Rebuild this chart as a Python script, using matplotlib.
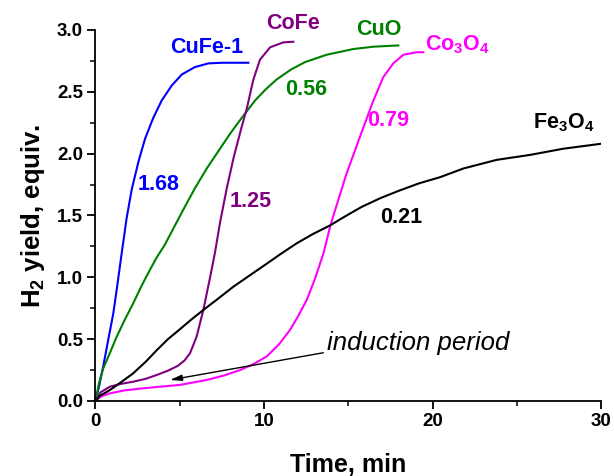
import matplotlib
matplotlib.use("Agg")
import matplotlib.pyplot as plt
from matplotlib.ticker import MultipleLocator, FormatStrFormatter

plt.rcParams['font.family'] = ['Liberation Sans', 'DejaVu Sans']
plt.rcParams['mathtext.fontset'] = 'custom'
plt.rcParams['mathtext.rm'] = 'Liberation Sans'
plt.rcParams['mathtext.bf'] = 'Liberation Sans:bold'
plt.rcParams['mathtext.it'] = 'Liberation Sans:italic'

# ---- data ----
t_cufe = [0, 0.2, 0.46, 0.75, 1.06, 1.3, 1.51, 1.85, 2.15, 2.54, 2.94, 3.43, 3.93, 4.52, 5.12, 5.9, 6.7, 7.5, 9.07]
y_cufe = [0, 0.11, 0.28, 0.49, 0.71, 0.94, 1.15, 1.48, 1.71, 1.93, 2.12, 2.29, 2.43, 2.55, 2.64, 2.70, 2.73, 2.735, 2.735]

t_cuo = [0, 0.2, 0.46, 0.8, 1.26, 1.75, 2.24, 2.73, 3.23, 3.63, 4.1, 4.72, 5.3, 5.9, 6.6, 7.29, 7.98, 8.68,
         9.47, 10.1, 10.75, 11.6, 12.43, 13.72, 15.3, 16.49, 17.97]
y_cuo = [0, 0.14, 0.264, 0.37, 0.52, 0.66, 0.79, 0.93, 1.06, 1.16, 1.26, 1.42, 1.57, 1.72, 1.88, 2.02, 2.16, 2.29,
         2.43, 2.52, 2.60, 2.68, 2.74, 2.80, 2.846, 2.865, 2.875]

t_cofe = [0, 0.3, 0.86, 1.5, 2.24, 3.0, 3.63, 4.3, 4.9, 5.3, 5.61, 6.0, 6.4, 6.8, 7.09, 7.4, 7.79, 8.2, 8.68,
          8.97, 9.37, 9.76, 10.36, 11.15, 11.74]
y_cofe = [0, 0.07, 0.116, 0.138, 0.156, 0.18, 0.21, 0.245, 0.285, 0.33, 0.386, 0.52, 0.736, 1.00, 1.20, 1.45,
          1.72, 1.97, 2.22, 2.36, 2.60, 2.76, 2.86, 2.90, 2.905]

t_co3o4 = [0, 0.3, 0.86, 1.7, 2.64, 3.8, 5.01, 6.6, 7.6, 8.58, 9.4, 10.16, 10.9, 11.54, 12.0, 12.53, 13.0, 13.52,
           13.92, 14.21, 14.9, 15.7, 16.49, 17.08, 17.67, 18.27, 19.06, 19.45]
y_co3o4 = [0, 0.035, 0.062, 0.085, 0.10, 0.115, 0.13, 0.17, 0.205, 0.25, 0.30, 0.36, 0.46, 0.574, 0.68, 0.816, 0.98,
           1.19, 1.41, 1.54, 1.84, 2.14, 2.43, 2.62, 2.73, 2.80, 2.82, 2.82]

t_fe3o4 = [0, 0.3, 0.86, 1.5, 2.24, 3.0, 3.63, 4.3, 5.01, 5.7, 6.4, 7.3, 8.18, 9.2, 10.16, 11.0, 11.94, 12.9,
           13.92, 14.9, 15.8, 16.9, 18.0, 19.2, 20.45, 21.83, 23.81, 25.79, 27.76, 30.0]
y_fe3o4 = [0, 0.045, 0.089, 0.15, 0.224, 0.32, 0.41, 0.50, 0.58, 0.66, 0.736, 0.83, 0.924, 1.02, 1.11, 1.19,
           1.275, 1.35, 1.42, 1.50, 1.57, 1.64, 1.70, 1.76, 1.81, 1.88, 1.95, 1.99, 2.04, 2.08]

rates = ['1.68', '0.56', '1.25', '0.79', '0.21']
names = ['CuFe-1', 'CuO', 'CoFe', r'Co$_\mathbf{3}$O$_\mathbf{4}$', r'Fe$_\mathbf{3}$O$_\mathbf{4}$']

fig = plt.figure(figsize=(6.14, 4.76), dpi=100)
ax = fig.add_axes([0.1555, 0.1576, 0.8235, 0.7794])

lw = 1.5
ax.plot(t_cufe, y_cufe, color='#0000FF', lw=lw)
ax.plot(t_cuo, y_cuo, color='#008000', lw=lw)
ax.plot(t_cofe, y_cofe, color='#800080', lw=lw)
ax.plot(t_co3o4, y_co3o4, color='#FF00FF', lw=lw)
ax.plot(t_fe3o4, y_fe3o4, color='black', lw=lw)

ax.set_xlim(0, 30)
ax.set_ylim(0, 3.0)
ax.xaxis.set_major_locator(MultipleLocator(10))
ax.xaxis.set_minor_locator(MultipleLocator(5))
ax.yaxis.set_major_locator(MultipleLocator(0.5))
ax.yaxis.set_minor_locator(MultipleLocator(0.25))
ax.yaxis.set_major_formatter(FormatStrFormatter('%.1f'))

for s in ['top', 'right']:
    ax.spines[s].set_visible(False)
for s in ['left', 'bottom']:
    ax.spines[s].set_linewidth(1.3)
ax.tick_params(which='major', direction='out', length=6, width=1.3, labelsize=13.5, pad=3)
ax.tick_params(which='minor', direction='out', length=3.5, width=1.1)
for lab in ax.get_xticklabels() + ax.get_yticklabels():
    lab.set_fontweight('bold')

ax.set_xlabel('Time, min', fontsize=18, fontweight='bold', labelpad=16)
ax.set_ylabel(r'H$_\mathbf{2}$ yield, equiv.', fontsize=18.5, fontweight='bold', labelpad=7)

fs = 15.5
kw = dict(fontsize=fs, fontweight='bold', ha='center', va='center')
ax.text(6.6, 2.86, names[0], color='#0000FF', **kw)
ax.text(11.69, 3.05, names[2], color='#800080', clip_on=False, **kw)
ax.text(16.8, 3.0, names[1], color='#008000', clip_on=False, **kw)
ax.text(19.55, 2.88, names[3], color='#FF00FF', fontsize=fs, fontweight='bold', ha='left', va='center')
ax.text(25.96, 2.25, names[4], color='black', fontsize=fs, fontweight='bold', ha='left', va='center')

ax.text(3.77, 1.75, rates[0], color='#0000FF', **kw)
ax.text(12.52, 2.52, rates[1], color='#008000', **kw)
ax.text(9.23, 1.61, rates[2], color='#800080', **kw)
ax.text(17.36, 2.27, rates[3], color='#FF00FF', **kw)
ax.text(18.13, 1.485, rates[4], color='black', **kw)

ax.text(13.75, 0.47, 'induction period', fontsize=18.5, style='italic', ha='left', va='center')
ax.annotate('', xy=(4.42, 0.17), xytext=(13.52, 0.39),
            arrowprops=dict(arrowstyle='-|>,head_length=0.7,head_width=0.18',
                            color='black', lw=1.0, shrinkA=0, shrinkB=0))

fig.savefig('out.png', dpi=100)
